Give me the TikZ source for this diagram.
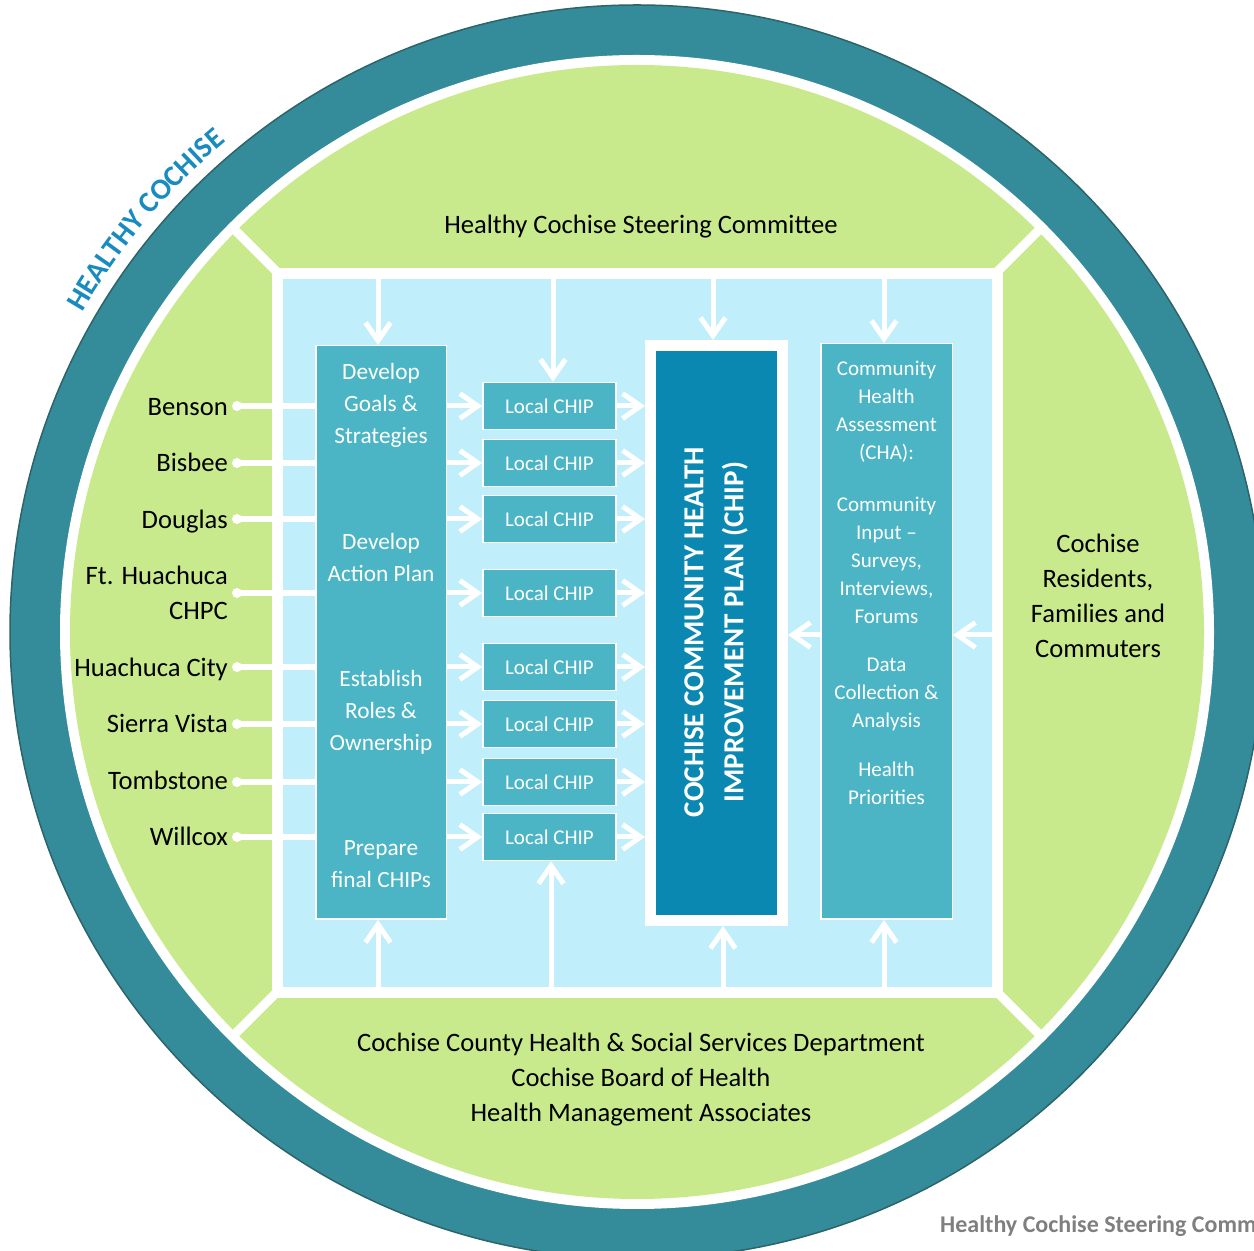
\documentclass[tikz,border=0pt]{standalone}
\usepackage{fontspec}
\setmainfont{Carlito}
\usetikzlibrary{arrows.meta,decorations.text}

\definecolor{ringTeal}{RGB}{52,139,154}
\definecolor{ringEdge}{RGB}{45,100,105}
\definecolor{leafGreen}{RGB}{201,234,140}
\definecolor{skyBlue}{RGB}{192,238,251}
\definecolor{boxTeal}{RGB}{75,181,197}
\definecolor{chipBlue}{RGB}{11,136,177}
\definecolor{arcBlue}{RGB}{24,140,192}
\definecolor{noteGray}{RGB}{127,127,127}

\tikzset{
  stepBox/.style={draw=white,line width=1.5pt,fill=boxTeal,inner sep=0pt},
  chipBox/.style={stepBox,minimum width=133pt,minimum height=47pt,text=white,font=\fontsize{21}{25}\selectfont},
  stepText/.style={text=white,align=center,font=\fontsize{23.3}{32}\selectfont},
  chaText/.style={text=white,align=center,font=\fontsize{21}{28}\selectfont},
  ringText/.style={align=center,font=\fontsize{26.6}{35}\selectfont},
  townText/.style={ringText,inner sep=0pt},
  townDot/.style={circle,fill=white,minimum size=10pt,inner sep=0pt},
  townLine/.style={draw=white,line width=5.5pt},
  flowArr/.style={draw=white,line width=5pt,-{Straight Barb[length=18pt,width=25pt]}},
}

\begin{document}
\begin{tikzpicture}[x=1pt,y=1pt]
\useasboundingbox (0,0) rectangle (1254,1251);
\clip (0,0) rectangle (1254,1251);
\coordinate (cCtrPt) at (637,619);

%outer ring and green disc
\filldraw[fill=ringTeal,draw=ringEdge,line width=1.5pt] (cCtrPt) circle[radius=627pt];
\fill[white] (cCtrPt) circle[radius=577pt];
\fill[leafGreen] (cCtrPt) circle[radius=567pt];
\foreach \a in {45,135,225,315}
  \draw[white,line width=9pt] (cCtrPt) -- ++(\a:572pt);

\path[decorate,decoration={text along path,text align=center,text color=arcBlue,
  text={|\fontsize{29.5}{31}\selectfont\bfseries|HEALTHY COCHISE}}]
  ([shift={(153:640pt)}]cCtrPt) arc[start angle=153,end angle=127,radius=640pt];

%light blue frame
\node[draw=white,line width=11pt,fill=skyBlue,minimum width=720pt,minimum height=719pt,inner sep=0pt] (nFrame) at (637.5,618) {};

\node[stepBox,minimum width=130.5pt,minimum height=573.5pt] (nSteps) at (381,618.5) {};
\node[stepText] (tGoals) at (381,846) {Develop\\Goals \&\\Strategies};
\node[stepText] (tAction) at (381,693) {Develop\\Action Plan};
\node[stepText] (tRoles) at (381,539) {Establish\\Roles \&\\Ownership};
\node[stepText] (tFinal) at (381,387) {Prepare\\final CHIPs};

\node[draw=white,line width=11pt,fill=chipBlue,minimum width=132pt,minimum height=575pt,inner sep=0pt] (nPlan) at (716.5,618) {};
\node[rotate=90,text=white,align=center,font=\fontsize{29}{40}\selectfont\bfseries] (tPlan) at (716,619) {COCHISE COMMUNITY HEALTH\\IMPROVEMENT PLAN (CHIP)};

\node[stepBox,minimum width=131.5pt,minimum height=575.5pt] (nCha) at (886.5,619.5) {};
\node[chaText] (tCha) at (886.5,839) {Community\\Health\\Assessment\\(CHA):};
\node[chaText] (tInput) at (886.5,691) {Community\\Input –\\Surveys,\\Interviews,\\Forums};
\node[chaText] (tData) at (886.5,557) {Data\\Collection \&\\Analysis};
\node[chaText] (tPrior) at (886.5,468) {Health\\Priorities};

\foreach \i/\y in {1/845,2/788,3/732,4/658,5/584,6/527,7/469,8/414}{
  \node[chipBox] (nChip\i) at (549.5,\y) {Local CHIP};
  \node[townDot] (dTown\i) at (237,\y) {};
  \draw[townLine] (dTown\i.center) -- (dTown\i -| nSteps.west);
  \draw[flowArr] (nChip\i -| nSteps.east) -- (nChip\i.west);
  \draw[flowArr] (nChip\i.east) -- (nChip\i -| nPlan.west);
}

\coordinate (cTopA) at (378,978);
\coordinate (cTopB) at (553,978);
\coordinate (cTopC) at (713,978);
\coordinate (cTopD) at (884,978);
\draw[flowArr] (cTopA) -- (cTopA |- nSteps.north);
\draw[flowArr] (cTopB) -- (cTopB |- nChip1.north);
\draw[flowArr] (cTopC) -- (cTopC |- nPlan.north);
\draw[flowArr] (cTopD) -- (cTopD |- nCha.north);

\coordinate (cBotA) at (378,259);
\coordinate (cBotB) at (551,259);
\coordinate (cBotC) at (723,259);
\coordinate (cBotD) at (884,259);
\draw[flowArr] (cBotA) -- (cBotA |- nSteps.south);
\draw[flowArr] (cBotB) -- (cBotB |- nChip8.south);
\draw[flowArr] (cBotC) -- (cBotC |- nPlan.south);
\draw[flowArr] (cBotD) -- (cBotD |- nCha.south);

\coordinate (cRightPt) at (997,616);
\draw[flowArr] (cRightPt) -- (cRightPt -| nCha.east);
\draw[flowArr] (nCha.west |- cRightPt) -- (cRightPt -| nPlan.east);

%texts in the green ring
\node[ringText] (tSteer) at (641,1024) {Healthy Cochise Steering Committee};
\node[ringText] (tCounty) at (641,171) {Cochise County Health \& Social Services Department\\Cochise Board of Health\\Health Management Associates};
\node[ringText] (tResid) at (1098,655) {Cochise\\Residents,\\Families and\\Commuters};

\node[townText,anchor=mid east] (tBenson) at (228,838) {Benson};
\node[townText,anchor=mid east] (tBisbee) at (228,782) {Bisbee};
\node[townText,anchor=mid east] (tDouglas) at (228,725) {Douglas};
\node[townText,anchor=east,align=right] (tFort) at (228,658) {Ft. Huachuca\\CHPC};
\node[townText,anchor=mid east] (tHCity) at (228,577) {Huachuca City};
\node[townText,anchor=mid east] (tSierra) at (228,521) {Sierra Vista};
\node[townText,anchor=mid east] (tTomb) at (228,464) {Tombstone};
\node[townText,anchor=mid east] (tWill) at (228,408) {Willcox};

\node[anchor=west,inner sep=0pt,text=noteGray,font=\fontsize{24}{26}\selectfont\bfseries] (tNote) at (940,25) {Healthy Cochise Steering Comm};
\end{tikzpicture}
\end{document}
